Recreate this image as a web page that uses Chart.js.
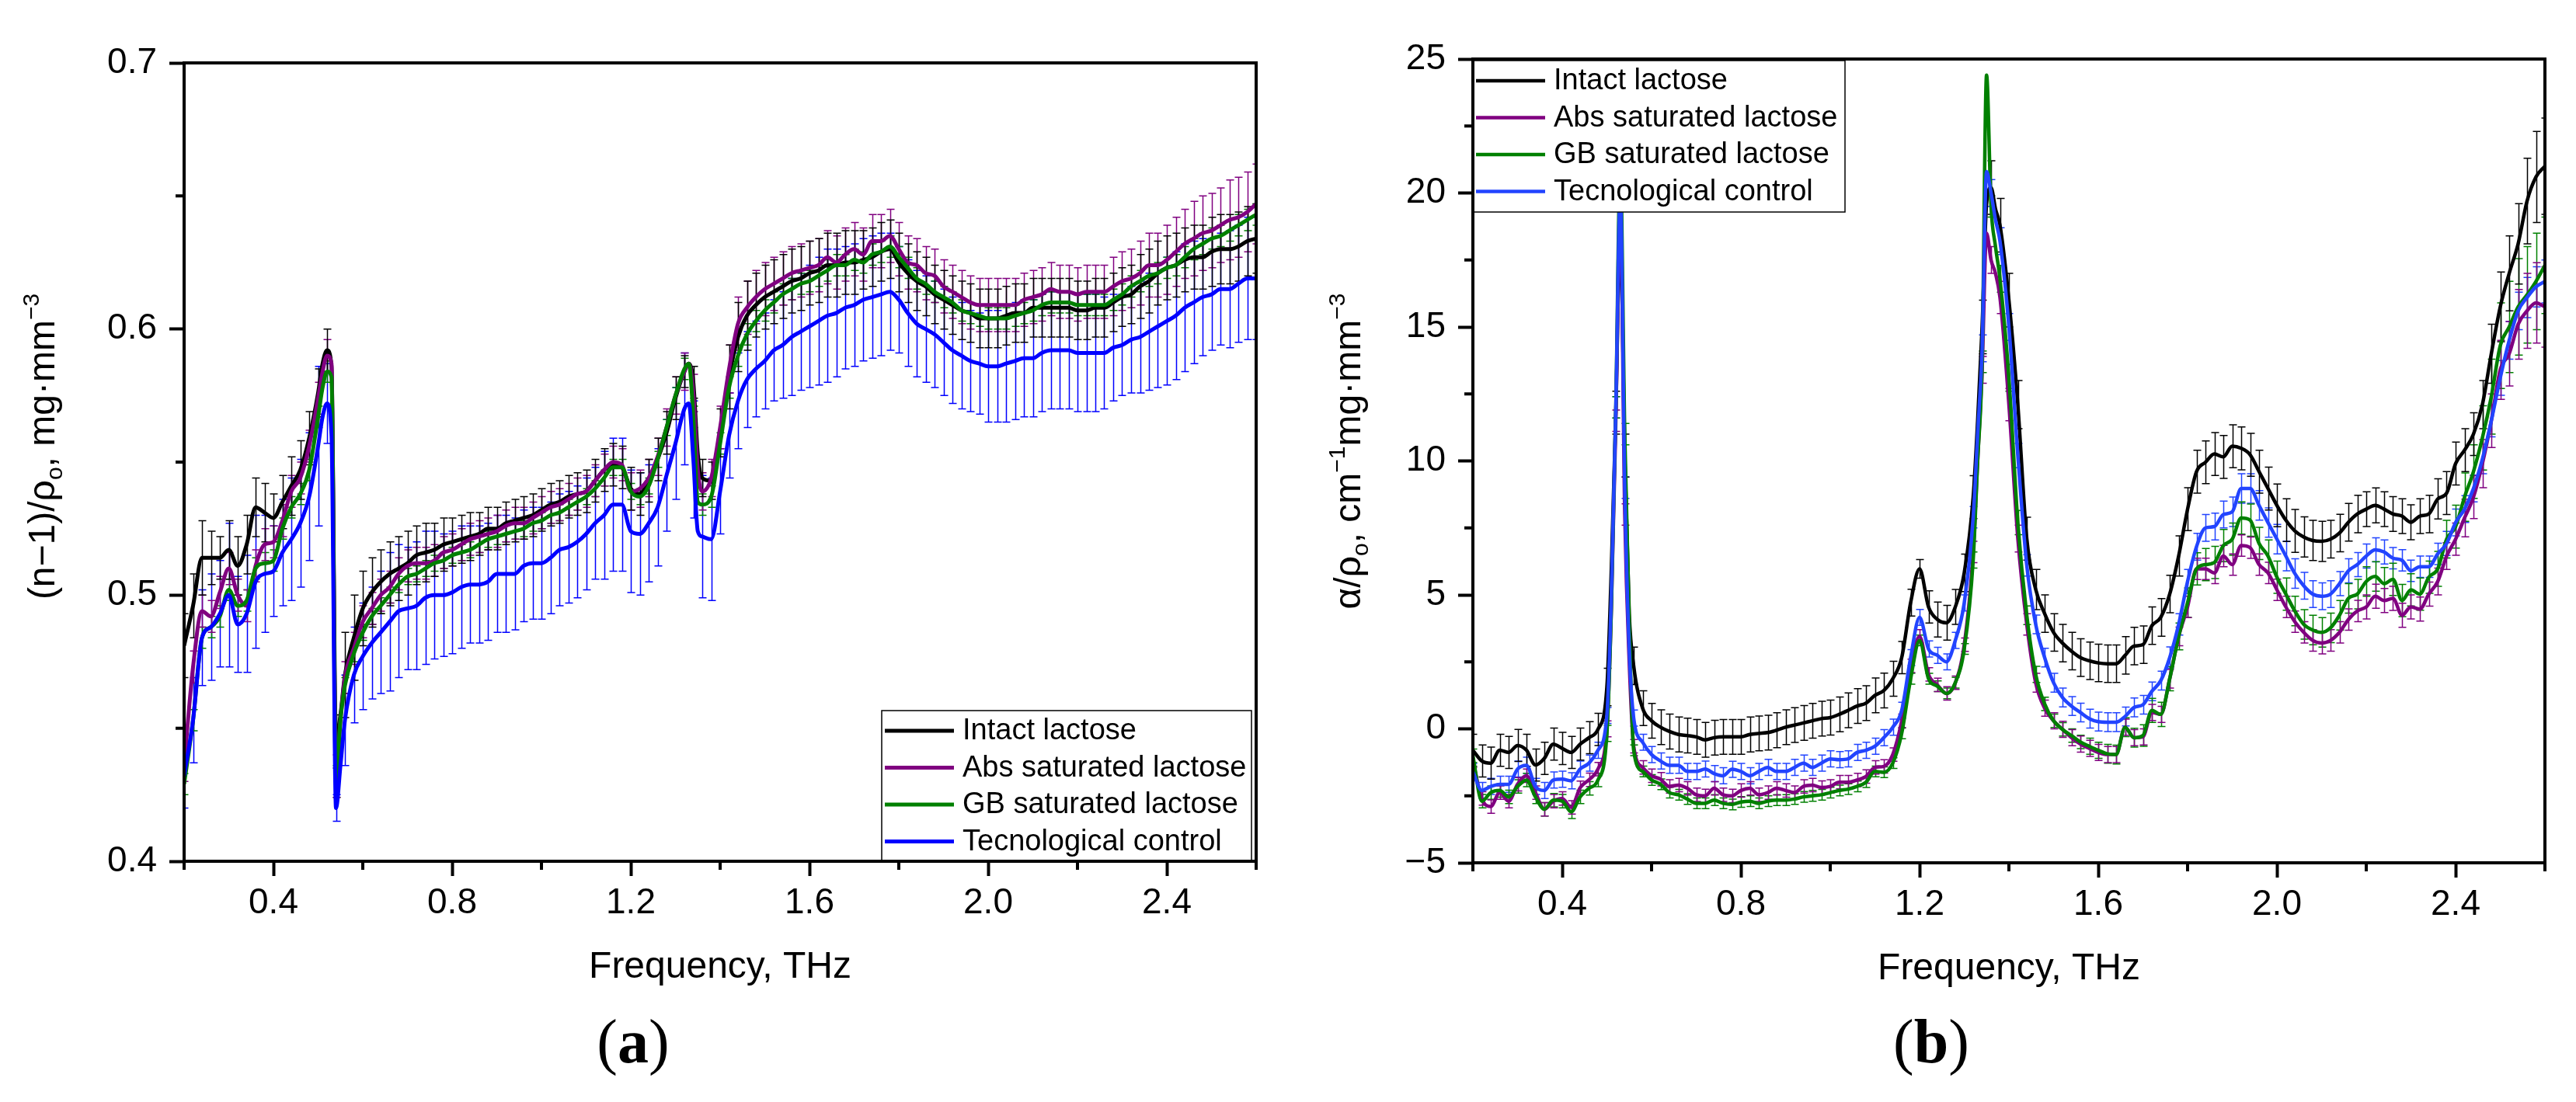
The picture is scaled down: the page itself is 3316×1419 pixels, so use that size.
<!DOCTYPE html>
<html lang="en">
<head>
<meta charset="UTF-8">
<title>Lactose THz refraction and absorption</title>
<script src="https://cdn.jsdelivr.net/npm/chart.js"></script>
<style>
  body { margin: 0; background: #fff; width: 3316px; height: 1419px; position: relative; overflow: hidden; }
  canvas { position: absolute; top: 0; }
  #chartA { left: 0; }
  #chartB { left: 1658px; }
</style>
</head>
<body>
<canvas id="chartA" width="1658" height="1419"></canvas>
<canvas id="chartB" width="1658" height="1419"></canvas>
<script>
// ---- shared labels / ticks ----
const seriesNames = ["Intact lactose", "Abs saturated lactose", "GB saturated lactose", "Tecnological control"];
const xMajorTicks = [0.4, 0.8, 1.2, 1.6, 2.0, 2.4];
const xMinorTicks = [0.2, 0.6, 1.0, 1.4, 1.8, 2.2, 2.6];
const yTicksA = [0.4, 0.5, 0.6, 0.7];
const yMinorA = [0.45, 0.55, 0.65];
const yTicksB = [-5, 0, 5, 10, 15, 20, 25];
const yMinorB = [-2.5, 2.5, 7.5, 12.5, 17.5, 22.5];

// ---- panel (a): (n-1)/rho ----
const freqA = [
  0.20,0.22,0.24,0.26,0.28,0.30,0.32,0.34,0.36,0.38,0.40,0.42,0.44,0.46,0.48,0.50,
  0.51,0.52,0.53,0.54,0.55,
  0.56,0.58,0.60,0.62,0.64,0.66,0.68,0.70,0.72,0.74,0.76,0.78,0.80,0.82,0.84,0.86,0.88,0.90,0.92,
  0.94,0.96,0.98,1.00,1.02,1.04,1.06,1.08,1.10,1.12,1.14,1.16,1.18,1.20,1.22,1.24,1.26,1.28,1.30,
  1.32,1.33,1.34,1.35,1.36,
  1.38,1.40,1.42,1.44,1.46,1.48,1.50,1.52,1.54,1.56,1.58,1.60,1.62,1.64,1.66,1.68,1.70,1.72,1.74,1.76,1.78,1.80,1.82,1.84,1.86,1.88,1.90,1.92,1.94,1.96,1.98,
  2.00,2.02,2.04,2.06,2.08,2.10,2.12,2.14,2.16,2.18,2.20,2.22,2.24,2.26,2.28,2.30,2.32,2.34,2.36,2.38,2.40,2.42,2.44,2.46,2.48,2.50,2.52,2.54,2.56,2.58,2.60
];
const intactA = [
  0.481,0.496,0.514,0.514,0.514,0.517,0.511,0.519,0.533,0.531,0.529,0.535,0.541,0.547,0.559,0.576,
  0.587,0.592,0.586,0.445,0.455,
  0.470,0.484,0.495,0.501,0.505,0.508,0.510,0.512,0.515,0.516,0.517,0.519,0.520,0.521,0.522,0.523,0.525,0.525,0.527,
  0.528,0.529,0.530,0.532,0.534,0.535,0.537,0.538,0.539,0.543,0.547,0.549,0.548,0.540,0.538,0.543,0.551,0.561,0.574,
  0.584,0.587,0.580,0.553,0.544,
  0.543,0.561,0.582,0.597,0.605,0.609,0.612,0.614,0.616,0.618,0.619,0.621,0.622,0.624,0.624,0.625,0.625,0.626,0.627,0.629,0.630,0.625,0.621,0.618,0.616,0.613,0.611,0.609,0.607,0.606,0.604,
  0.604,0.604,0.605,0.606,0.606,0.608,0.608,0.608,0.608,0.608,0.607,0.607,0.608,0.608,0.610,0.612,0.613,0.616,0.618,0.621,0.623,0.624,0.626,0.627,0.627,0.629,0.630,0.630,0.631,0.633,0.634
];
const absA = [
  0.436,0.473,0.494,0.492,0.501,0.510,0.500,0.496,0.511,0.519,0.520,0.528,0.539,0.544,0.556,0.574,
  0.584,0.590,0.587,0.432,0.453,
  0.469,0.480,0.490,0.495,0.500,0.503,0.508,0.511,0.512,0.512,0.513,0.516,0.517,0.519,0.521,0.522,0.523,0.524,0.526,
  0.527,0.527,0.529,0.531,0.533,0.534,0.536,0.538,0.539,0.543,0.547,0.550,0.549,0.539,0.540,0.544,0.552,0.563,0.575,
  0.584,0.587,0.576,0.547,0.539,
  0.544,0.563,0.585,0.602,0.608,0.612,0.615,0.617,0.619,0.621,0.622,0.623,0.624,0.627,0.625,0.628,0.630,0.628,0.633,0.633,0.635,0.630,0.625,0.624,0.621,0.620,0.616,0.614,0.612,0.610,0.609,
  0.609,0.609,0.609,0.609,0.611,0.612,0.613,0.615,0.614,0.614,0.613,0.614,0.614,0.614,0.616,0.618,0.619,0.621,0.624,0.624,0.626,0.629,0.632,0.634,0.636,0.637,0.639,0.641,0.642,0.644,0.647
];
const gbA = [
  0.429,0.453,0.484,0.488,0.492,0.502,0.496,0.498,0.510,0.512,0.513,0.525,0.533,0.538,0.547,0.567,
  0.578,0.584,0.582,0.430,0.453,
  0.466,0.478,0.486,0.492,0.496,0.500,0.504,0.507,0.508,0.510,0.512,0.513,0.515,0.516,0.517,0.519,0.521,0.522,0.523,
  0.524,0.525,0.527,0.528,0.530,0.531,0.533,0.535,0.537,0.540,0.544,0.548,0.548,0.539,0.537,0.541,0.551,0.563,0.575,
  0.585,0.587,0.567,0.535,0.534,
  0.537,0.557,0.578,0.590,0.598,0.603,0.607,0.610,0.613,0.615,0.617,0.618,0.620,0.622,0.624,0.624,0.626,0.625,0.628,0.629,0.631,0.627,0.623,0.619,0.617,0.614,0.612,0.610,0.607,0.606,0.605,
  0.604,0.604,0.604,0.605,0.606,0.607,0.609,0.610,0.610,0.610,0.609,0.609,0.609,0.609,0.611,0.613,0.616,0.618,0.620,0.621,0.623,0.624,0.627,0.630,0.632,0.634,0.635,0.637,0.639,0.641,0.643
];
const controlA = [
  0.432,0.453,0.484,0.488,0.493,0.500,0.489,0.493,0.505,0.508,0.509,0.516,0.521,0.527,0.537,0.556,
  0.567,0.572,0.560,0.420,0.436,
  0.453,0.470,0.477,0.482,0.486,0.490,0.494,0.495,0.496,0.499,0.500,0.500,0.501,0.503,0.504,0.504,0.505,0.508,0.508,
  0.508,0.511,0.512,0.512,0.514,0.517,0.518,0.520,0.523,0.527,0.530,0.534,0.534,0.524,0.523,0.527,0.533,0.545,0.557,
  0.570,0.572,0.551,0.524,0.522,
  0.521,0.539,0.560,0.573,0.581,0.585,0.588,0.592,0.594,0.597,0.599,0.601,0.603,0.605,0.606,0.608,0.609,0.611,0.612,0.613,0.614,0.611,0.606,0.602,0.600,0.598,0.595,0.592,0.590,0.588,0.587,
  0.586,0.586,0.587,0.588,0.589,0.589,0.591,0.592,0.592,0.592,0.591,0.591,0.591,0.591,0.593,0.594,0.596,0.597,0.599,0.601,0.603,0.605,0.608,0.610,0.612,0.613,0.615,0.615,0.617,0.619,0.619
];
const errIntactA = [
  .012,.012,.014,.010,.008,.011,.011,.011,.011,.011,.009,.010,.011,.011,.010,.009,
  null,.008,null,.010,null,
  .016,.016,.014,.013,.012,.012,.012,.012,.011,.011,.010,.010,.009,.009,.009,.008,.008,.008,.008,
  .008,.008,.008,.008,.008,.008,.008,.008,.008,.008,.008,.008,.008,.008,.008,.008,.008,.008,.008,
  .006,null,.006,null,.007,
  .007,.009,.012,.013,.013,.012,.012,.012,.012,.012,.012,.012,.012,.012,.012,.012,.012,.011,.011,.011,.011,.011,.011,.011,.011,.011,.011,.011,.011,.011,.011,
  .011,.011,.011,.011,.011,.011,.011,.011,.011,.011,.011,.011,.011,.011,.011,.011,.011,.012,.012,.012,.012,.012,.012,.012,.012,.013,.013,.013,.013,.013,.013
];
const errAbsA = [
  .006,.006,.006,.006,.006,.006,.006,.006,.006,.006,.006,.006,.006,.006,.006,.006,
  null,.006,null,.008,null,
  .006,.006,.006,.006,.006,.006,.006,.006,.006,.006,.006,.006,.006,.006,.006,.006,.006,.006,.006,
  .006,.006,.006,.006,.006,.006,.006,.006,.006,.006,.006,.006,.006,.007,.007,.007,.007,.007,.007,
  .007,null,.007,null,.007,
  .007,.008,.009,.010,.010,.010,.010,.010,.010,.010,.010,.010,.010,.010,.010,.010,.010,.010,.010,.010,.010,.010,.010,.010,.010,.010,.010,.010,.010,.010,.010,
  .010,.010,.010,.010,.010,.010,.010,.010,.010,.010,.010,.010,.010,.010,.011,.011,.011,.012,.012,.012,.013,.013,.013,.014,.014,.014,.014,.015,.015,.015,.015
];
const errGbA = [
  .004,.004,.004,.004,.004,.004,.004,.004,.004,.004,.004,.004,.004,.004,.004,.004,
  null,.004,null,.006,null,
  .003,.003,.003,.003,.003,.003,.003,.003,.003,.003,.003,.003,.003,.003,.003,.003,.003,.003,.003,
  .003,.003,.003,.003,.003,.003,.003,.003,.003,.003,.003,.003,.003,.003,.003,.003,.003,.003,.003,
  .004,null,.004,null,.004,
  .004,.004,.004,.004,.004,.004,.004,.004,.004,.004,.004,.004,.004,.004,.004,.004,.004,.004,.004,.004,.004,.004,.004,.004,.004,.004,.004,.004,.004,.004,.004,
  .004,.004,.004,.004,.004,.004,.004,.004,.004,.004,.004,.004,.004,.004,.004,.004,.004,.004,.004,.004,.004,.004,.004,.004,.004,.004,.004,.004,.004,.004,.004
];
const errControlA = [
  .012,.016,.018,.020,.020,.027,.018,.022,.025,.022,.017,.020,.023,.024,.024,.030,
  null,.015,null,.005,null,
  .017,.018,.020,.021,.023,.026,.025,.023,.024,.025,.024,.023,.023,.023,.022,.022,.022,.022,.022,
  .021,.021,.021,.021,.021,.021,.021,.021,.021,.021,.024,.025,.025,.023,.023,.022,.022,.021,.021,
  .021,null,.022,null,.023,
  .023,.016,.016,.018,.018,.018,.018,.019,.020,.022,.022,.023,.024,.025,.024,.023,.023,.023,.023,.023,.022,.020,.020,.020,.020,.020,.020,.020,.020,.019,.019,
  .021,.021,.022,.022,.022,.022,.022,.022,.022,.022,.022,.022,.022,.021,.020,.019,.020,.021,.022,.023,.024,.024,.024,.023,.022,.021,.021,.022,.022,.023,.023
];

// ---- panel (b): alpha/rho ----
const freqB = [
  0.20,0.22,0.24,0.26,0.28,0.30,0.32,0.34,0.36,0.38,0.40,0.42,0.44,0.46,0.48,
  0.50,0.51,0.52,0.53,0.54,0.55,
  0.56,0.58,0.60,0.62,0.64,0.66,0.68,0.70,0.72,0.74,0.76,0.78,0.80,0.82,0.84,0.86,0.88,0.90,0.92,0.94,
  0.96,0.98,1.00,1.02,1.04,1.06,1.08,1.10,1.12,1.14,1.16,1.18,1.20,1.22,1.24,1.26,1.28,1.30,
  1.32,1.33,1.34,1.35,1.36,1.37,
  1.38,1.40,1.42,1.44,1.46,1.48,1.50,1.52,1.54,1.56,1.58,1.60,1.62,1.64,1.66,1.68,1.70,1.72,1.74,1.76,1.78,1.80,1.82,1.84,1.86,1.88,1.90,1.92,1.94,1.96,1.98,
  2.00,2.02,2.04,2.06,2.08,2.10,2.12,2.14,2.16,2.18,2.20,2.22,2.24,2.26,2.28,2.30,2.32,2.34,2.36,2.38,2.40,2.42,2.44,2.46,2.48,2.50,2.52,2.54,2.56,2.58,2.60
];
const intactB = [
  -0.80,-1.20,-1.28,-0.80,-0.88,-0.62,-0.80,-1.35,-1.10,-0.57,-0.73,-0.88,-0.57,-0.33,-0.02,
  1.56,6.0,11.8,18.5,10.2,4.3,
  2.35,0.77,0.30,0.06,-0.10,-0.21,-0.25,-0.30,-0.41,-0.33,-0.30,-0.30,-0.30,-0.21,-0.17,-0.14,-0.05,0.06,0.14,0.22,
  0.30,0.38,0.42,0.54,0.69,0.85,0.96,1.25,1.43,1.87,2.66,4.71,5.97,4.55,4.08,3.96,4.55,5.82,
  8.65,11.5,15.0,19.6,20.2,19.4,
  18.8,16.0,12.1,7.1,5.2,4.3,3.6,3.2,2.9,2.66,2.54,2.46,2.43,2.43,2.74,3.09,3.14,3.85,4.16,5.03,6.45,8.2,9.6,9.95,10.26,10.15,10.55,10.47,10.23,9.6,8.97,
  8.34,7.79,7.39,7.16,7.03,7.0,7.08,7.31,7.71,8.02,8.2,8.34,8.2,8.02,7.94,7.71,7.94,8.02,8.58,8.8,9.9,10.4,11.0,12.1,14.0,15.75,17.0,18.1,19.7,20.6,21.0
];
const absB = [
  -1.2,-2.6,-2.9,-2.38,-2.7,-2.07,-1.75,-2.38,-3.0,-2.7,-2.6,-2.93,-2.2,-1.9,-1.5,
  0.0,4.5,11.5,19.5,8.0,2.5,
  -0.65,-1.44,-1.75,-1.88,-2.15,-2.1,-2.22,-2.46,-2.5,-2.22,-2.46,-2.5,-2.3,-2.22,-2.46,-2.38,-2.22,-2.3,-2.38,-2.15,
  -2.1,-2.19,-2.15,-1.99,-1.99,-1.91,-1.78,-1.44,-1.4,-0.96,0.3,2.35,3.45,2.03,1.64,1.32,1.72,3.14,
  6.6,10.0,13.4,18.5,17.5,17.0,
  16.1,12.1,7.1,3.9,1.72,0.77,0.3,-0.02,-0.33,-0.57,-0.73,-0.88,-0.96,-0.96,0.06,-0.33,-0.3,0.61,0.54,1.87,3.45,4.55,5.97,5.97,5.82,6.45,6.13,6.84,6.76,6.13,5.82,
  5.19,4.55,4.0,3.6,3.3,3.2,3.3,3.6,4.08,4.4,4.55,4.95,4.79,4.87,4.24,4.55,4.47,5.03,5.5,6.45,7.08,7.87,8.65,9.9,11.5,13.4,14.0,15.1,15.6,15.9,15.75
];
const gbB = [
  -1.0,-2.7,-2.38,-2.3,-2.54,-2.15,-1.91,-2.54,-3.0,-2.66,-2.7,-3.1,-2.54,-2.22,-1.91,
  -0.17,4.5,12.0,21.0,11.0,4.0,
  -0.8,-1.59,-1.91,-2.07,-2.38,-2.46,-2.62,-2.78,-2.78,-2.66,-2.78,-2.82,-2.73,-2.7,-2.78,-2.7,-2.66,-2.66,-2.62,-2.54,
  -2.5,-2.46,-2.38,-2.3,-2.25,-2.15,-1.99,-1.59,-1.62,-1.28,-0.17,1.87,3.3,1.87,1.59,1.32,1.72,2.98,
  6.3,10.0,13.7,24.4,19.5,18.0,
  16.8,13.1,7.7,4.24,2.03,0.93,0.3,-0.02,-0.25,-0.49,-0.65,-0.8,-0.93,-0.96,0.06,-0.33,-0.25,0.69,0.54,1.87,3.45,4.71,5.97,6.13,6.21,6.84,7.08,7.87,7.79,6.92,6.45,
  5.66,5.03,4.4,3.9,3.69,3.6,3.77,4.24,4.87,5.03,5.5,5.69,5.42,5.58,4.79,5.19,5.03,5.66,5.97,7.08,7.55,8.65,9.6,10.86,12.4,14.3,15.0,15.75,16.2,16.7,17.3
];
const controlB = [
  -1.6,-2.3,-2.15,-2.07,-2.07,-1.5,-1.36,-2.15,-2.3,-1.91,-1.88,-1.94,-1.5,-1.28,-0.8,
  0.5,5.0,12.0,20.0,9.0,3.0,
  0.4,-0.5,-0.96,-1.2,-1.36,-1.36,-1.59,-1.59,-1.5,-1.67,-1.75,-1.51,-1.59,-1.75,-1.59,-1.44,-1.59,-1.59,-1.44,-1.28,
  -1.44,-1.28,-1.12,-1.15,-1.12,-0.88,-0.8,-0.65,-0.33,0.06,0.69,2.66,4.16,2.98,2.74,2.5,3.3,4.7,
  7.9,11.0,14.2,20.8,20.0,19.0,
  18.2,15.0,10.2,6.1,3.9,2.66,1.72,1.17,0.85,0.61,0.38,0.27,0.25,0.25,0.46,0.8,0.9,1.4,1.8,2.66,3.9,5.5,6.8,7.5,7.55,8.0,8.1,8.97,8.97,8.34,7.7,
  7.08,6.45,5.8,5.34,5.03,4.95,5.03,5.42,5.9,6.13,6.45,6.68,6.6,6.37,6.29,5.9,6.05,6.05,6.53,6.92,7.7,8.2,8.97,10.07,11.5,13.1,14.5,15.6,16.1,16.5,16.7
];
const errIntactB = [
  0.6,0.6,0.6,0.6,0.6,0.6,0.6,0.6,0.6,0.6,0.6,0.6,0.6,0.6,0.6,
  0.7,null,0.8,null,0.8,null,
  0.7,0.65,0.65,0.65,0.65,0.65,0.65,0.65,0.65,0.65,0.65,0.65,0.65,0.65,0.65,0.65,0.65,0.65,0.65,0.65,
  0.65,0.65,0.65,0.65,0.65,0.65,0.65,0.65,0.65,0.65,0.6,0.5,0.35,0.6,0.65,0.65,0.65,0.7,
  0.8,null,1.0,null,1.0,null,
  1.0,1.0,0.9,0.8,0.75,0.7,0.7,0.7,0.7,0.7,0.7,0.7,0.7,0.7,0.7,0.7,0.7,0.7,0.7,0.7,0.75,0.8,0.8,0.8,0.8,0.8,0.8,0.8,0.8,0.8,0.8,
  0.8,0.8,0.8,0.75,0.75,0.75,0.7,0.7,0.7,0.7,0.65,0.65,0.65,0.65,0.65,0.65,0.65,0.7,0.75,0.8,0.8,0.8,0.8,0.9,1.1,1.3,1.4,1.5,1.6,1.7,1.8
];
const errAbsB = [
  0.25,0.25,0.25,0.25,0.25,0.25,0.25,0.25,0.25,0.25,0.25,0.25,0.25,0.25,0.25,
  0.3,null,0.4,null,0.4,null,
  0.25,0.25,0.25,0.25,0.25,0.25,0.25,0.25,0.25,0.25,0.25,0.25,0.25,0.25,0.25,0.25,0.25,0.25,0.25,0.25,
  0.25,0.25,0.25,0.25,0.25,0.25,0.25,0.25,0.25,0.25,0.25,0.25,0.25,0.25,0.25,0.25,0.25,0.25,
  0.4,null,0.5,null,0.5,null,
  0.6,0.6,0.5,0.4,0.35,0.3,0.3,0.3,0.3,0.3,0.3,0.3,0.3,0.3,0.3,0.3,0.3,0.3,0.3,0.35,0.35,0.4,0.4,0.4,0.4,0.4,0.4,0.4,0.4,0.4,0.4,
  0.4,0.4,0.4,0.4,0.4,0.4,0.4,0.4,0.4,0.4,0.45,0.45,0.45,0.45,0.45,0.45,0.45,0.45,0.5,0.5,0.6,0.7,0.8,0.9,1.0,1.1,1.2,1.3,1.4,1.5,1.5
];
const errGbB = [
  0.25,0.25,0.25,0.25,0.25,0.25,0.25,0.25,0.25,0.25,0.25,0.25,0.25,0.25,0.25,
  0.3,null,0.4,null,0.4,null,
  0.2,0.2,0.2,0.2,0.2,0.2,0.2,0.2,0.2,0.2,0.2,0.2,0.2,0.2,0.2,0.2,0.2,0.2,0.2,0.2,
  0.2,0.2,0.2,0.2,0.2,0.2,0.2,0.2,0.2,0.2,0.2,0.2,0.2,0.2,0.2,0.2,0.2,0.2,
  0.3,null,0.4,null,0.4,null,
  0.5,0.5,0.45,0.35,0.3,0.25,0.25,0.25,0.25,0.25,0.3,0.3,0.35,0.35,0.35,0.35,0.4,0.45,0.45,0.45,0.5,0.55,0.6,0.6,0.6,0.6,0.6,0.6,0.6,0.6,0.6,
  0.6,0.6,0.55,0.55,0.55,0.55,0.55,0.55,0.55,0.55,0.55,0.55,0.6,0.6,0.6,0.6,0.6,0.6,0.65,0.7,0.8,0.9,1.0,1.2,1.4,1.6,1.7,1.8,1.8,1.8,1.8
];
const errControlB = [
  0.3,0.3,0.3,0.3,0.3,0.3,0.3,0.3,0.3,0.3,0.3,0.3,0.3,0.3,0.3,
  0.3,null,0.4,null,0.4,null,
  0.3,0.3,0.3,0.3,0.3,0.3,0.3,0.3,0.3,0.3,0.3,0.3,0.3,0.3,0.3,0.3,0.3,0.3,0.3,0.3,
  0.3,0.3,0.3,0.3,0.3,0.3,0.3,0.3,0.3,0.3,0.3,0.3,0.3,0.3,0.3,0.3,0.3,0.3,
  0.4,null,0.5,null,0.5,null,
  0.5,0.5,0.45,0.4,0.35,0.35,0.35,0.35,0.35,0.35,0.35,0.35,0.35,0.35,0.35,0.35,0.35,0.35,0.35,0.4,0.4,0.45,0.5,0.5,0.5,0.5,0.55,0.55,0.55,0.55,0.55,
  0.55,0.55,0.55,0.5,0.5,0.5,0.5,0.45,0.45,0.45,0.45,0.45,0.45,0.4,0.4,0.4,0.4,0.4,0.4,0.45,0.5,0.5,0.5,0.55,0.6,0.65,0.7,0.7,0.75,0.75,0.8
];

const FAMILY = "'Liberation Sans', Arial, sans-serif";
const SERIF = "'Liberation Serif', 'Times New Roman', serif";
Chart.defaults.font.family = FAMILY;
Chart.defaults.color = '#000';

// dataset i: 0 intact, 1 abs, 2 gb, 3 control
const lineOrder = [3, 2, 1, 0];      // higher = drawn earlier
const errDrawOrder = [3, 2, 1, 0];   // control bars first, intact bars last

const panels = {
  chartA: {
    freq: freqA,
    series: [intactA, absA, gbA, controlA],
    errors: [errIntactA, errAbsA, errGbA, errControlA],
    colors: ['#000000', '#800080', '#008000', '#0000ff'],
    lineWidth: 5,
    yMin: 0.4, yMax: 0.7, yTicks: yTicksA, yMinor: yMinorA,
    yFmt: v => v.toFixed(1),
    padTop: 81, padRight: 41, xAxisH: 310, yAxisW: 237,
    legend: a => ({ x: a.right - 482, y: a.bottom - 194, w: 476, h: 194 }),
    yTitle: [['(n\u22121)/\u03c1', 'n'], ['o', 'sub'], [', mg\u00b7mm', 'n'], ['\u22123', 'sup']],
    yTitleX: 70, yTitleY: 575,
    label: [['(', 'n'], ['a', 'b'], [')', 'n']], labelX: 815
  },
  chartB: {
    freq: freqB,
    series: [intactB, absB, gbB, controlB],
    errors: [errIntactB, errAbsB, errGbB, errControlB],
    colors: ['#000000', '#800080', '#008000', '#2244ff'],
    lineWidth: 4.5,
    yMin: -5, yMax: 25, yTicks: yTicksB, yMinor: yMinorB,
    yFmt: v => String(v).replace('-', '\u2212'),
    padTop: 76, padRight: 40, xAxisH: 308, yAxisW: 238,
    legend: a => ({ x: a.left, y: a.top + 2, w: 479, h: 195 }),
    yTitle: [['\u03b1/\u03c1', 'n'], ['o', 'sub'], [', cm', 'n'], ['\u22121', 'sup'], ['mg\u00b7mm', 'n'], ['\u22123', 'sup']],
    yTitleX: 93, yTitleY: 581,
    label: [['(', 'n'], ['b', 'b'], [')', 'n']], labelX: 828
  }
};

// text with sub/superscripts, optionally rotated, centred on (cx, baseline cy)
function drawRich(ctx, segs, cx, cy, size, family, rotated) {
  const fontOf = k => (k === 'b' ? 'bold ' : '') +
    Math.round(k === 'sub' || k === 'sup' ? size * 0.62 : size) + 'px ' + family;
  ctx.save();
  ctx.translate(cx, cy);
  if (rotated) ctx.rotate(-Math.PI / 2);
  ctx.textAlign = 'left';
  ctx.textBaseline = 'alphabetic';
  ctx.fillStyle = '#000';
  let total = 0;
  segs.forEach(([t, k]) => { ctx.font = fontOf(k); total += ctx.measureText(t).width; });
  let pos = -total / 2;
  segs.forEach(([t, k]) => {
    ctx.font = fontOf(k);
    const dy = k === 'sup' ? -size * 0.42 : (k === 'sub' ? size * 0.2 : 0);
    ctx.fillText(t, pos, dy);
    pos += ctx.measureText(t).width;
  });
  ctx.restore();
}

const decor = {
  id: 'decor',
  beforeDatasetsDraw(chart) {
    const p = panels[chart.canvas.id];
    const { ctx, chartArea: a } = chart;
    const xs = chart.scales.x, ys = chart.scales.y;
    ctx.save();
    ctx.beginPath();
    ctx.rect(a.left, a.top, a.right - a.left, a.bottom - a.top);
    ctx.clip();
    ctx.lineWidth = 1.5;
    errDrawOrder.forEach(i => {
      const vals = p.series[i], errs = p.errors[i];
      ctx.strokeStyle = p.colors[i];
      ctx.beginPath();
      p.freq.forEach((f, j) => {
        const e = errs[j];
        if (e == null) return;
        const px = Math.round(xs.getPixelForValue(f)) + 0.5;
        const hi = ys.getPixelForValue(vals[j] + e);
        const lo = ys.getPixelForValue(vals[j] - e);
        ctx.moveTo(px, hi); ctx.lineTo(px, lo);
        ctx.moveTo(px - 5, hi); ctx.lineTo(px + 5, hi);
        ctx.moveTo(px - 5, lo); ctx.lineTo(px + 5, lo);
      });
      ctx.stroke();
    });
    ctx.restore();
  },
  afterDraw(chart) {
    const p = panels[chart.canvas.id];
    const { ctx, chartArea: a } = chart;
    const xs = chart.scales.x, ys = chart.scales.y;
    ctx.save();

    // legend box
    const L = p.legend(a);
    ctx.fillStyle = '#fff';
    ctx.fillRect(L.x, L.y, L.w, L.h);
    ctx.strokeStyle = '#000';
    ctx.lineWidth = 1.5;
    ctx.strokeRect(L.x, L.y, L.w, L.h);
    ctx.font = '38px ' + FAMILY;
    ctx.textAlign = 'left';
    ctx.textBaseline = 'middle';
    seriesNames.forEach((name, i) => {
      const ry = L.y + 26 + i * 47.5;
      ctx.strokeStyle = p.colors[i];
      ctx.lineWidth = p.lineWidth;
      ctx.beginPath();
      ctx.moveTo(L.x + 4, ry);
      ctx.lineTo(L.x + 93, ry);
      ctx.stroke();
      ctx.fillStyle = '#000';
      ctx.fillText(name, L.x + 104, ry + 1);
    });

    // frame
    ctx.strokeStyle = '#000';
    ctx.lineWidth = 4;
    ctx.strokeRect(a.left, a.top, a.right - a.left, a.bottom - a.top);

    // minor ticks
    ctx.beginPath();
    xMinorTicks.forEach(v => {
      const px = xs.getPixelForValue(v);
      ctx.moveTo(px, a.bottom); ctx.lineTo(px, a.bottom + 11);
    });
    p.yMinor.forEach(v => {
      const py = ys.getPixelForValue(v);
      ctx.moveTo(a.left, py); ctx.lineTo(a.left - 11, py);
    });
    ctx.stroke();

    // axis titles
    ctx.fillStyle = '#000';
    ctx.font = '48px ' + FAMILY;
    ctx.textAlign = 'center';
    ctx.textBaseline = 'alphabetic';
    ctx.fillText('Frequency, THz', (a.left + a.right) / 2, a.bottom + 150);
    drawRich(ctx, p.yTitle, p.yTitleX, p.yTitleY, 48, FAMILY, true);

    // panel letter
    drawRich(ctx, p.label, p.labelX, 1368, 80, SERIF, false);
    ctx.restore();
  }
};

function buildChart(id) {
  const p = panels[id];
  return new Chart(document.getElementById(id), {
    type: 'line',
    data: {
      datasets: p.series.map((vals, i) => ({
        label: seriesNames[i],
        data: p.freq.map((f, j) => ({ x: f, y: vals[j] })),
        borderColor: p.colors[i],
        backgroundColor: p.colors[i],
        borderWidth: p.lineWidth,
        pointRadius: 0,
        cubicInterpolationMode: 'monotone',
        order: lineOrder[i],
        fill: false
      }))
    },
    options: {
      responsive: false,
      animation: false,
      devicePixelRatio: 1,
      events: [],
      layout: { padding: { top: p.padTop, right: p.padRight, left: 0, bottom: 0 } },
      plugins: { legend: { display: false }, tooltip: { enabled: false } },
      scales: {
        x: {
          type: 'linear', min: 0.2, max: 2.6,
          afterBuildTicks: s => { s.ticks = xMajorTicks.map(v => ({ value: v })); },
          afterFit: s => { s.height = p.xAxisH; },
          border: { display: false },
          grid: { drawOnChartArea: false, drawTicks: true, tickLength: 19, tickWidth: 4, tickColor: '#000' },
          ticks: { autoSkip: false, maxRotation: 0, padding: 8, color: '#000', font: { size: 46 },
                   callback: v => v.toFixed(1) }
        },
        y: {
          type: 'linear', min: p.yMin, max: p.yMax,
          afterBuildTicks: s => { s.ticks = p.yTicks.map(v => ({ value: v })); },
          afterFit: s => { s.width = p.yAxisW; },
          border: { display: false },
          grid: { drawOnChartArea: false, drawTicks: true, tickLength: 19, tickWidth: 4, tickColor: '#000' },
          ticks: { autoSkip: false, padding: 16, color: '#000', font: { size: 46 },
                   callback: v => p.yFmt(v) }
        }
      }
    },
    plugins: [decor]
  });
}

buildChart('chartA');
buildChart('chartB');
</script>
</body>
</html>
